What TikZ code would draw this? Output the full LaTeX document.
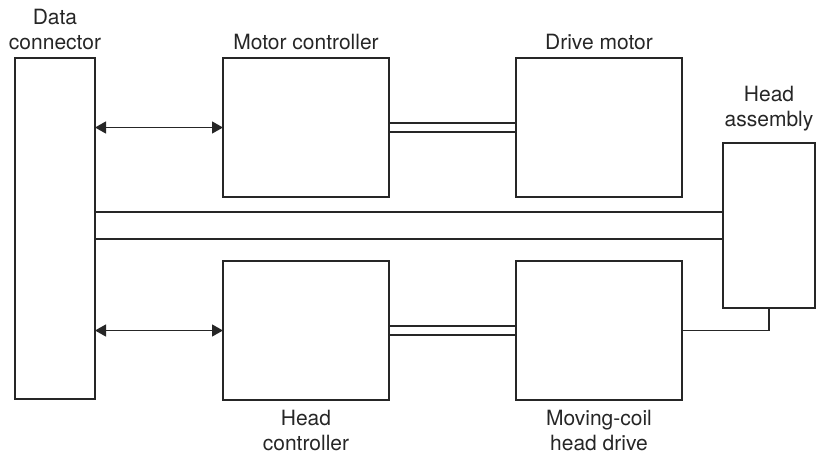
\documentclass[tikz,border=0pt]{standalone}
\usepackage{fontspec}
\setmainfont{TeX Gyre Heros}
\usetikzlibrary{positioning}
\usetikzlibrary{arrows.meta}

\begin{document}
\begin{tikzpicture}[x=1pt, y=-1pt, line width=1.2pt, color=black!85, >={Triangle[length=11pt, width=12pt]},
    block/.style={draw, rectangle, minimum width=166pt, minimum height=139pt, inner sep=0pt, outer sep=0pt},
    tag/.style={align=center, font=\fontsize{21}{25}\selectfont, inner sep=0pt}]
    \useasboundingbox (0,0) rectangle (827,455);

    \node (dc) [block, minimum width=80pt, minimum height=341pt, anchor=north west] at (15,58) {};
    \node (mc) [block, anchor=north west] at (223,58) {};
    \node (dm) [block, right=127pt of mc] {};
    \node (hc) [block, below=64pt of mc] {};
    \node (cd) [block, right=127pt of hc] {};
    \node (ha) [block, minimum width=92pt, minimum height=165pt, anchor=north west] at (723,143) {};

    \node (dclab) [tag, above=8pt of dc] {Data\\connector};
    \node (mclab) [tag, above=8pt of mc] {Motor controller};
    \node (dmlab) [tag, above=8pt of dm] {Drive motor};
    \node (halab) [tag, above=11pt of ha] {Head\\assembly};
    \node (hclab) [tag, below=10pt of hc] {Head\\controller};
    \node (cdlab) [tag, below=10pt of cd] {Moving-coil\\head drive};

    % data lines
    \draw[<->] (dc.east |- mc.west) -- (mc.west);
    \draw[<->] (dc.east |- hc.west) -- (hc.west);

    % shafts
    \draw ([yshift=4.5pt]mc.east) rectangle ([yshift=-4.5pt]dm.west);
    \draw ([yshift=4.5pt]hc.east) rectangle ([yshift=-4.5pt]cd.west);
    \draw ([yshift=13.5pt]ha.west -| dc.east) rectangle ([yshift=-13.5pt]ha.west);

    \draw (cd.east) -| (ha.south);
\end{tikzpicture}
\end{document}
